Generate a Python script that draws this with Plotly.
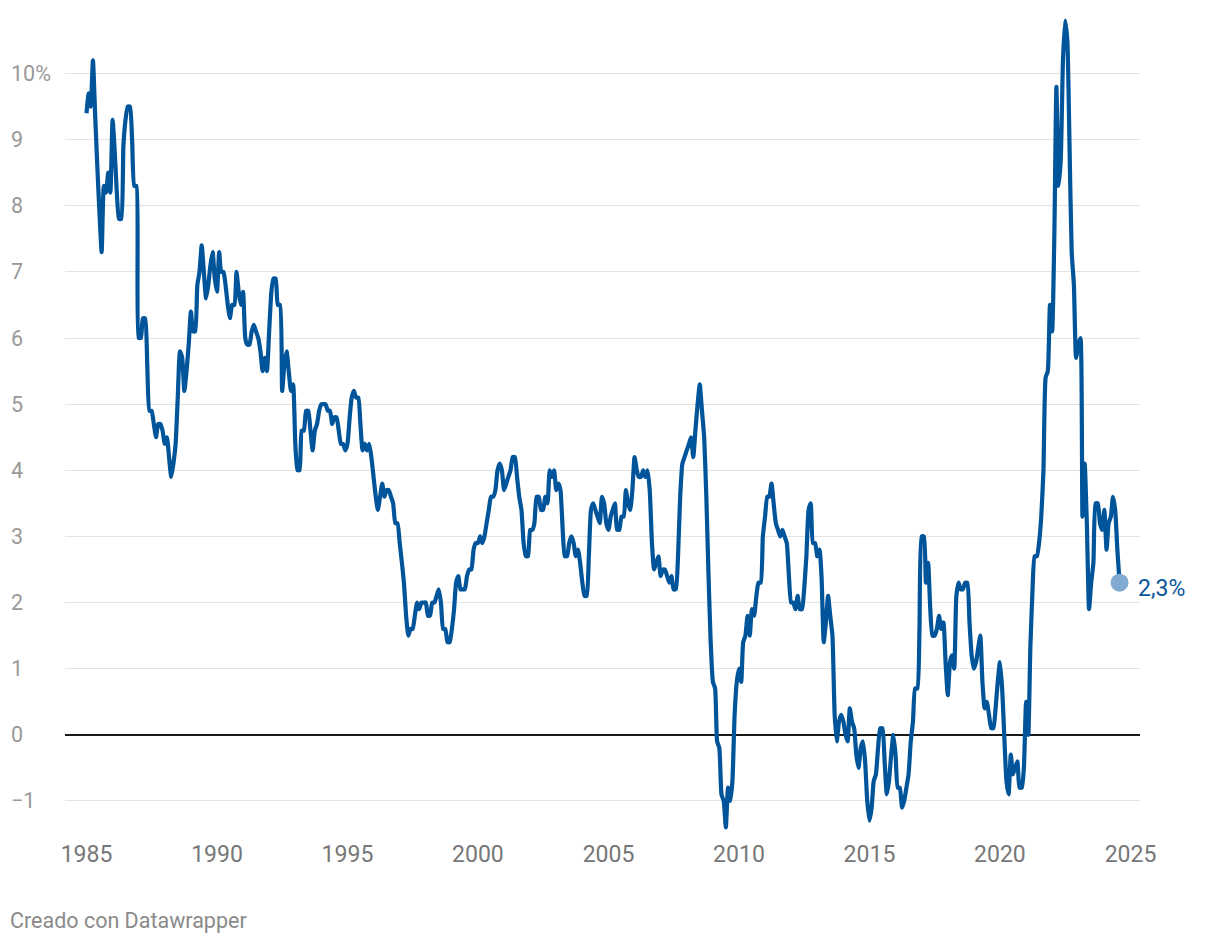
import pandas as pd
import plotly.graph_objects as go

# ---- data: monthly year-on-year CPI change (%) ----
start_month = "1985-01-01"

ipc_1985_1989 = [
    9.4, 9.7, 9.5, 10.2, 9.4, 8.6, 7.9, 7.3, 8.3, 8.2, 8.5, 8.2,
    9.3, 8.8, 8.2, 7.8, 7.8, 8.9, 9.3, 9.5, 9.5, 9.0, 8.3, 8.3,
    6.0, 6.0, 6.3, 6.3, 5.6, 4.9, 4.9, 4.7, 4.5, 4.7, 4.7, 4.6,
    4.4, 4.5, 4.2, 3.9, 4.1, 4.4, 5.1, 5.8, 5.7, 5.2, 5.5, 5.9,
    6.4, 6.1, 6.1, 6.8, 7.0, 7.4, 7.0, 6.6, 6.8, 7.1, 7.3, 6.9,
]
ipc_1990_1999 = [
    6.7, 7.3, 7.0, 7.0, 6.8, 6.5, 6.3, 6.5, 6.5, 7.0, 6.7, 6.5,
    6.7, 6.0, 5.9, 5.9, 6.1, 6.2, 6.1, 6.0, 5.8, 5.5, 5.7, 5.5,
    6.1, 6.7, 6.9, 6.9, 6.5, 6.5, 5.2, 5.6, 5.8, 5.5, 5.2, 5.3,
    4.4, 4.0, 4.0, 4.6, 4.6, 4.9, 4.9, 4.6, 4.3, 4.6, 4.7, 4.9,
    5.0, 5.0, 5.0, 4.9, 4.9, 4.7, 4.8, 4.8, 4.6, 4.4, 4.4, 4.3,
    4.4, 4.8, 5.1, 5.2, 5.1, 5.1, 4.7, 4.3, 4.4, 4.3, 4.4, 4.2,
    3.9, 3.6, 3.4, 3.6, 3.8, 3.6, 3.7, 3.7, 3.6, 3.5, 3.2, 3.2,
    2.9, 2.6, 2.3, 1.8, 1.5, 1.6, 1.6, 1.8, 2.0, 1.9, 2.0, 2.0,
    2.0, 1.8, 1.8, 2.0, 2.0, 2.1, 2.2, 2.0, 1.6, 1.6, 1.4, 1.4,
    1.6, 1.9, 2.3, 2.4, 2.2, 2.2, 2.2, 2.4, 2.5, 2.5, 2.8, 2.9,
]
ipc_2000_2009 = [
    2.9, 3.0, 2.9, 3.0, 3.2, 3.4, 3.6, 3.6, 3.7, 4.0, 4.1, 4.0,
    3.7, 3.8, 3.9, 4.0, 4.2, 4.2, 3.9, 3.6, 3.4, 2.9, 2.7, 2.7,
    3.1, 3.1, 3.2, 3.6, 3.6, 3.4, 3.4, 3.6, 3.5, 4.0, 3.9, 4.0,
    3.7, 3.8, 3.7, 3.1, 2.7, 2.7, 2.9, 3.0, 2.9, 2.7, 2.8, 2.6,
    2.3, 2.1, 2.1, 2.7, 3.4, 3.5, 3.4, 3.3, 3.2, 3.6, 3.5, 3.2,
    3.1, 3.3, 3.4, 3.5, 3.1, 3.1, 3.3, 3.3, 3.7, 3.5, 3.4, 3.7,
    4.2, 4.0, 3.9, 3.9, 4.0, 3.9, 4.0, 3.7, 2.9, 2.5, 2.6, 2.7,
    2.4, 2.5, 2.5, 2.4, 2.3, 2.4, 2.2, 2.2, 2.7, 3.6, 4.1, 4.2,
    4.3, 4.4, 4.5, 4.2, 4.6, 5.0, 5.3, 4.9, 4.5, 3.6, 2.4, 1.4,
    0.8, 0.7, -0.1, -0.2, -0.9, -1.0, -1.4, -0.8, -1.0, -0.7, 0.3, 0.8,
]
ipc_2010_2019 = [
    1.0, 0.8, 1.4, 1.5, 1.8, 1.5, 1.9, 1.8, 2.1, 2.3, 2.3, 3.0,
    3.3, 3.6, 3.6, 3.8, 3.5, 3.2, 3.1, 3.0, 3.1, 3.0, 2.9, 2.4,
    2.0, 2.0, 1.9, 2.1, 1.9, 1.9, 2.2, 2.7, 3.4, 3.5, 2.9, 2.9,
    2.7, 2.8, 2.4, 1.4, 1.7, 2.1, 1.8, 1.5, 0.3, -0.1, 0.2, 0.3,
    0.2, 0.0, -0.1, 0.4, 0.2, 0.1, -0.3, -0.5, -0.2, -0.1, -0.4, -1.0,
    -1.3, -1.1, -0.7, -0.6, -0.2, 0.1, 0.1, -0.4, -0.9, -0.7, -0.3, 0.0,
    -0.3, -0.8, -0.8, -1.1, -1.0, -0.8, -0.6, -0.1, 0.2, 0.7, 0.7, 1.6,
    3.0, 3.0, 2.3, 2.6, 1.9, 1.5, 1.5, 1.6, 1.8, 1.6, 1.7, 1.1,
    0.6, 1.1, 1.2, 1.0, 2.1, 2.3, 2.2, 2.2, 2.3, 2.3, 1.7, 1.2,
    1.0, 1.1, 1.3, 1.5, 0.8, 0.4, 0.5, 0.3, 0.1, 0.1, 0.4, 0.8,
]
ipc_2020_2024 = [
    1.1, 0.7, 0.0, -0.7, -0.9, -0.3, -0.6, -0.5, -0.4, -0.8, -0.8, -0.5,
    0.5, 0.0, 1.3, 2.2, 2.7, 2.7, 2.9, 3.3, 4.0, 5.4, 5.5, 6.5,
    6.1, 7.6, 9.8, 8.3, 8.7, 10.2, 10.8, 10.5, 8.9, 7.3, 6.8, 5.7,
    5.9, 6.0, 3.3, 4.1, 3.2, 1.9, 2.3, 2.6, 3.5, 3.5, 3.2, 3.1,
    3.4, 2.8, 3.2, 3.3, 3.6, 3.4, 2.8, 2.3,
]

year_ticks = list(range(1985, 2026, 5))
year_labels = [str(y) for y in year_ticks]
y_ticks = [-1, 0, 1, 2, 3, 4, 5, 6, 7, 8, 9, 10]
y_labels = ["\u22121", "0", "1", "2", "3", "4", "5", "6", "7", "8", "9", "10%"]
end_label = "2,3%"
source_note = "Creado con Datawrapper"

# ---- build ----
values = ipc_1985_1989 + ipc_1990_1999 + ipc_2000_2009 + ipc_2010_2019 + ipc_2020_2024
dates = pd.date_range(start_month, periods=len(values), freq="MS")

LINE = "#00559a"
FONT = "Roboto, Arial, sans-serif"

fig = go.Figure()
fig.add_trace(go.Scatter(
    x=dates, y=values, mode="lines",
    line=dict(color=LINE, width=4.2, shape="spline", smoothing=0.5),
    hoverinfo="skip", showlegend=False,
))
fig.add_trace(go.Scatter(
    x=[dates[-1]], y=[values[-1]], mode="markers",
    marker=dict(color="#80aacf", size=18, line=dict(width=0)),
    hoverinfo="skip", showlegend=False, cliponaxis=False,
))

annotations = []
for v, lab in zip(y_ticks, y_labels):
    annotations.append(dict(
        x=0, xref="paper", xshift=-56, y=v, yref="y",
        text=lab, showarrow=False, xanchor="left", yanchor="middle",
        font=dict(family=FONT, size=21.5, color="#999999"),
    ))
annotations.append(dict(
    x=dates[-1], y=values[-1], xref="x", yref="y",
    text=end_label, showarrow=False, xanchor="left", yanchor="middle",
    xshift=16, yshift=-6,
    font=dict(family=FONT, size=23, color="#0b5599"),
))
annotations.append(dict(
    x=0, xref="paper", xshift=-57, y=0, yref="paper", yshift=-86,
    text=source_note, showarrow=False, xanchor="left", yanchor="middle",
    font=dict(family=FONT, size=21.5, color="#8a8a8a"),
))

fig.update_layout(
    width=1220, height=944,
    margin=dict(l=65, r=80, t=14, b=110),
    paper_bgcolor="white", plot_bgcolor="white",
    font=dict(family=FONT),
    annotations=annotations,
    xaxis=dict(
        type="date", range=["1984-03-06", "2025-05-14"],
        tickvals=[f"{y}-01-01" for y in year_ticks], ticktext=year_labels,
        showgrid=False, showline=False, zeroline=False, ticks="",
        tickfont=dict(family=FONT, size=23, color="#777777"),
        ticklabelstandoff=4,
    ),
    yaxis=dict(
        range=[-1.5, 10.9], tickvals=y_ticks, showticklabels=False,
        showgrid=True, gridcolor="#e2e2e2", gridwidth=1,
        zeroline=True, zerolinecolor="#1a1a1a", zerolinewidth=1.6,
        showline=False, ticks="",
    ),
)

fig.write_html("out.html", config={"displayModeBar": False},
               post_script="document.body.style.margin='0px';")
